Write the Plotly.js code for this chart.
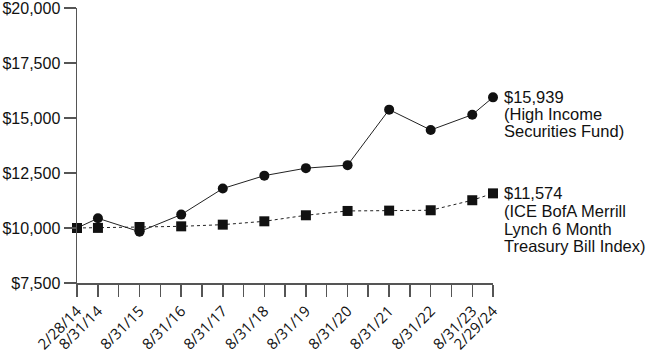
<!DOCTYPE html>
<html>
<head>
<meta charset="utf-8">
<script src="https://cdn.plot.ly/plotly-3.0.1.min.js"></script>
<style>html,body{margin:0;padding:0;background:#fff;}#chart{width:652px;height:359px;}</style>
</head>
<body>
<div id="chart"></div>
<script>
const dates = ["2014-02-28","2014-08-31","2015-08-31","2016-08-31","2017-08-31","2018-08-31","2019-08-31","2020-08-31","2021-08-31","2022-08-31","2023-08-31","2024-02-29"];
const fundValues = [10000,10441,9833,10608,11794,12380,12720,12857,15380,14453,15150,15939];
const indexValues = [10000,10005,10045,10076,10152,10304,10578,10775,10790,10806,11262,11574];
const tickDates = ["2014-02-28","2014-08-31","2015-02-28","2015-08-31","2016-02-29","2016-08-31","2017-02-28","2017-08-31","2018-02-28","2018-08-31","2019-02-28","2019-08-31","2020-02-29","2020-08-31","2021-02-28","2021-08-31","2022-02-28","2022-08-31","2023-02-28","2023-08-31","2024-02-29"];
const tickLabels = ["2/28/14","8/31/14","","8/31/15","","8/31/16","","8/31/17","","8/31/18","","8/31/19","","8/31/20","","8/31/21","","8/31/22","","8/31/23","2/29/24"];
const yTicks = [7500,10000,12500,15000,17500,20000];
const yLabels = ["$7,500","$10,000","$12,500","$15,000","$17,500","$20,000"];
const fundLabel = ["$15,939","(High Income","Securities Fund)"];
const indexLabel = ["$11,574","(ICE BofA Merrill","Lynch 6 Month","Treasury Bill Index)"];

const traces = [
  {x: dates, y: indexValues, mode: "lines+markers", type: "scatter",
   line: {color: "#222", width: 1, dash: "dot"},
   marker: {symbol: "square", size: 10, color: "#111"}, cliponaxis: false},
  {x: dates, y: fundValues, mode: "lines+markers", type: "scatter",
   line: {color: "#222", width: 1},
   marker: {symbol: "circle", size: 10, color: "#111"}, cliponaxis: false}
];

const lastX = dates[dates.length-1];
const annotations = [];
const afont = {family:"Liberation Sans, Arial", size:16.5, color:"#111"};
fundLabel.forEach((t,i)=>annotations.push({x: lastX, y: fundValues[fundValues.length-1], xref:"x", yref:"y", text:t, showarrow:false, xanchor:"left", yanchor:"middle", xshift:9, yshift:-i*17, align:"left", font:afont}));
indexLabel.forEach((t,i)=>annotations.push({x: lastX, y: indexValues[indexValues.length-1], xref:"x", yref:"y", text:t, showarrow:false, xanchor:"left", yanchor:"middle", xshift:9, yshift:-i*17.7, align:"left", font:afont}));

const layout = {
  width: 652, height: 359,
  margin: {l: 77, r: 159, t: 8, b: 76},
  paper_bgcolor: "#fff", plot_bgcolor: "#fff",
  showlegend: false,
  xaxis: {type: "date", range: ["2014-02-28","2024-02-29"], tickmode: "array", tickvals: tickDates, ticktext: tickLabels,
          tickangle: -45, ticks: "outside", ticklen: 12, tickcolor: "#555", tickwidth: 1.5,
          showline: true, linecolor: "#555", linewidth: 1.5, showgrid: false, zeroline: false,
          ticklabeloverflow: "allow",
          tickfont: {family: "Open Sans", size: 15, color: "#111"}},
  yaxis: {range: [7500, 20000], tickmode: "array", tickvals: yTicks, ticktext: yLabels,
          ticks: "outside", ticklen: 12, tickcolor: "#555", tickwidth: 1.5,
          showline: true, linecolor: "#555", linewidth: 1.5, showgrid: false, zeroline: false,
          ticklabeloverflow: "allow",
          tickfont: {family: "Liberation Sans, Arial", size: 16, color: "#111"}},
  annotations: annotations
};
Plotly.newPlot("chart", traces, layout, {displayModeBar: false, staticPlot: true});
</script>
</body>
</html>
